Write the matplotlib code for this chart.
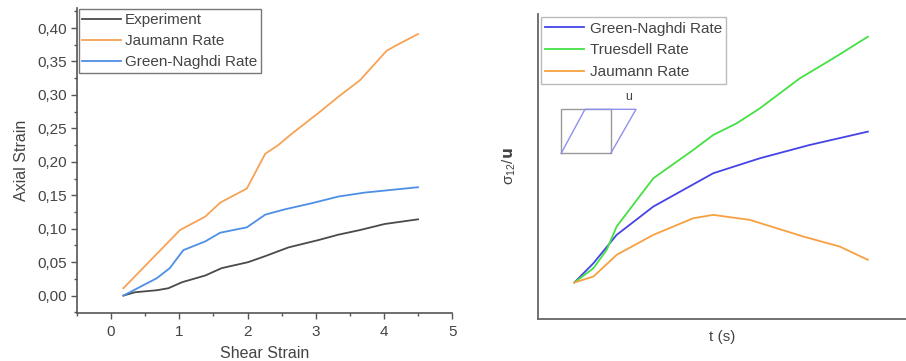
import matplotlib
matplotlib.use('Agg')
import matplotlib.pyplot as plt
from matplotlib.ticker import MultipleLocator, FuncFormatter

plt.rcParams['font.family'] = ['Liberation Sans', 'DejaVu Sans']
plt.rcParams['mathtext.fontset'] = 'custom'
plt.rcParams['mathtext.rm'] = 'Liberation Sans'

# ----------------------------------------------------------------------------
# Left panel data: axial strain vs shear strain
# ----------------------------------------------------------------------------
exp_x = [0.18, 0.35, 0.67, 0.84, 1.04, 1.38, 1.62, 2.01, 2.26, 2.60, 3.04, 3.33, 3.65, 4.01, 4.50]
exp_y = [0.000, 0.005, 0.008, 0.011, 0.020, 0.030, 0.041, 0.050, 0.059, 0.072, 0.083, 0.091, 0.098, 0.107, 0.114]

jau_x = [0.18, 1.01, 1.38, 1.60, 1.99, 2.26, 2.45, 2.65, 3.04, 3.33, 3.65, 4.04, 4.18, 4.50]
jau_y = [0.011, 0.098, 0.118, 0.139, 0.160, 0.212, 0.225, 0.242, 0.273, 0.297, 0.322, 0.366, 0.374, 0.391]

gn_x = [0.18, 0.67, 0.86, 1.06, 1.38, 1.60, 1.99, 2.26, 2.55, 2.94, 3.33, 3.72, 4.50]
gn_y = [0.000, 0.026, 0.041, 0.068, 0.081, 0.094, 0.102, 0.121, 0.129, 0.138, 0.148, 0.154, 0.162]

# ----------------------------------------------------------------------------
# Right panel data: normalised shear stress vs time (arbitrary units)
# ----------------------------------------------------------------------------
r_gn_t = [0, 0.65, 1.44, 2.69, 4.73, 6.32, 8.02, 10]
r_gn_s = [11.0, 16.8, 25.3, 33.8, 43.8, 48.3, 52.3, 56.3]

r_tr_t = [0, 0.65, 1.10, 1.44, 2.69, 4.05, 4.73, 5.53, 6.32, 7.68, 8.82, 10]
r_tr_s = [11.0, 15.3, 20.8, 27.8, 42.3, 50.8, 55.3, 58.8, 63.3, 72.3, 78.3, 84.8]

r_ja_t = [0, 0.65, 1.44, 2.69, 4.05, 4.73, 5.98, 7.80, 9.04, 10]
r_ja_s = [11.0, 12.8, 19.3, 25.3, 30.3, 31.3, 29.8, 24.8, 21.8, 17.8]

text_col = '#444444'
spine_col = '#555555'

fig = plt.figure(figsize=(9.06, 3.61), dpi=100)

# ---------------- left panel ----------------
ax1 = fig.add_axes([0.085, 0.133, 0.414, 0.845])
ax1.plot(exp_x, exp_y, color='#4a4a4a', lw=1.3, label='Experiment')
ax1.plot(jau_x, jau_y, color='#f7a255', lw=1.3, label='Jaumann Rate')
ax1.plot(gn_x, gn_y, color='#4d8fe6', lw=1.3, label='Green-Naghdi Rate')
ax1.set_xlim(-0.5, 5)
ax1.set_ylim(-0.026, 0.43)
ax1.xaxis.set_major_locator(MultipleLocator(1))
ax1.xaxis.set_minor_locator(MultipleLocator(0.5))
ax1.yaxis.set_major_locator(MultipleLocator(0.05))
ax1.yaxis.set_minor_locator(MultipleLocator(0.025))
ax1.yaxis.set_major_formatter(FuncFormatter(lambda v, p: f'{v:.2f}'.replace('.', ',')))
ax1.spines['top'].set_visible(False)
ax1.spines['right'].set_visible(False)
for s in ['left', 'bottom']:
    ax1.spines[s].set_color(spine_col)
    ax1.spines[s].set_linewidth(1.2)
ax1.tick_params(which='major', direction='out', length=4, width=1, colors=spine_col,
                labelcolor=text_col, labelsize=11)
ax1.tick_params(axis='x', which='major', pad=5)
ax1.tick_params(which='minor', direction='out', length=2.5, width=1, colors=spine_col)
ax1.set_xlabel('Shear Strain', fontsize=11.5, color=text_col, labelpad=5)
ax1.set_ylabel('Axial Strain', fontsize=11.5, color=text_col, labelpad=6)
leg1 = ax1.legend(loc='upper left', bbox_to_anchor=(0.0, 1.0), borderaxespad=0.1,
                  fontsize=11, frameon=True, fancybox=False, handlelength=2.5,
                  handletextpad=0.3, labelspacing=0.45, borderpad=0.25)
leg1.get_frame().set_edgecolor('#555555')
leg1.get_frame().set_linewidth(1.0)
for t in leg1.get_texts():
    t.set_color(text_col)

# ---------------- right panel ----------------
ax2 = fig.add_axes([0.5935, 0.116, 0.4065, 0.845])
ax2.plot(r_gn_t, r_gn_s, color='#4444e6', lw=1.3, label='Green-Naghdi Rate')
ax2.plot(r_tr_t, r_tr_s, color='#44e044', lw=1.3, label='Truesdell Rate')
ax2.plot(r_ja_t, r_ja_s, color='#f7a040', lw=1.3, label='Jaumann Rate')
ax2.set_xlim(-1.25, 11.3)
ax2.set_ylim(0, 91.6)
ax2.set_xticks([])
ax2.set_yticks([])
ax2.spines['top'].set_visible(False)
ax2.spines['right'].set_visible(False)
for s in ['left', 'bottom']:
    ax2.spines[s].set_color('#666666')
    ax2.spines[s].set_linewidth(1.3)
ax2.set_xlabel('t (s)', fontsize=11, color=text_col, labelpad=8)
ax2.set_ylabel(r'$\mathrm{\sigma_{12}}$/$\mathbf{u}$', fontsize=11, color=text_col, labelpad=14)

# shear sketch inset
ax2.plot([-0.45, 1.24, 1.24, -0.45, -0.45], [49.8, 49.8, 63.0, 63.0, 49.8],
         color='#999999', lw=1.0)
ax2.plot([-0.45, 0.36, 2.10, 1.24], [49.8, 63.0, 63.0, 49.8], color='#8f8ff0', lw=1.0)
ax2.text(1.84, 66.8, 'u', fontsize=9, color=text_col, ha='center', va='center')

leg2 = ax2.legend(loc='upper left', bbox_to_anchor=(0.0, 1.0), borderaxespad=0.2,
                  fontsize=11, frameon=True, fancybox=False, handlelength=2.5,
                  handletextpad=0.4, labelspacing=0.5, borderpad=0.3)
leg2.get_frame().set_edgecolor('#aaaaaa')
leg2.get_frame().set_linewidth(1.0)
for t in leg2.get_texts():
    t.set_color(text_col)

plt.savefig('out.png', dpi=100)
